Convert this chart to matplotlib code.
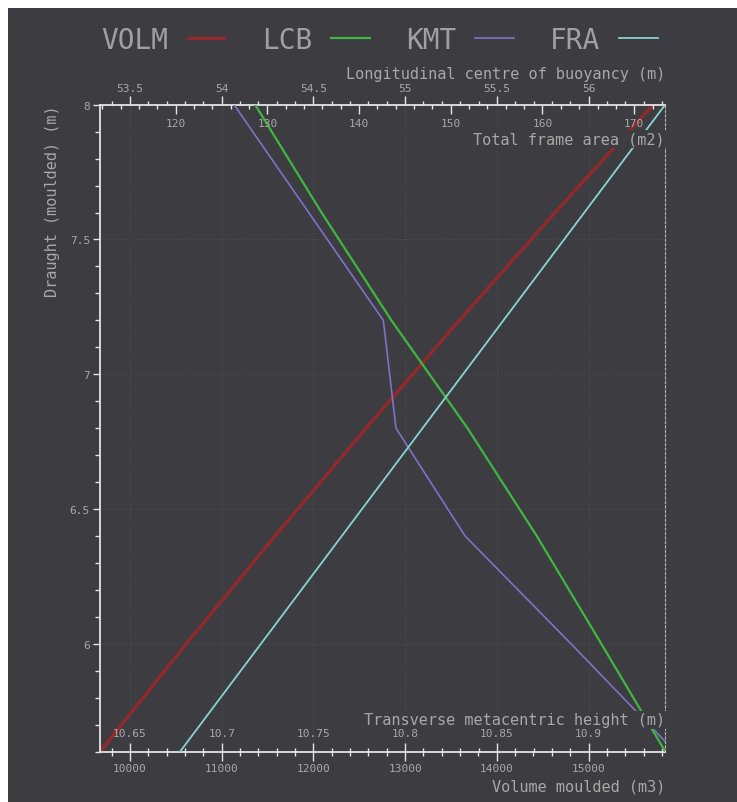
import matplotlib
matplotlib.use('Agg')
import matplotlib.pyplot as plt
from matplotlib.patches import Rectangle
from matplotlib.ticker import MultipleLocator, FuncFormatter

# Hydrostatic curves against moulded draught
draught = [5.6, 6.0, 6.4, 6.8, 7.2, 7.6, 8.0]
volm = [9673, 10613, 11581, 12574, 13591, 14635, 15705]
lcb = [56.419, 56.070, 55.718, 55.340, 54.925, 54.544, 54.182]
kmt = [10.9472, 10.8905, 10.8327, 10.7950, 10.7881, 10.7474, 10.7067]
fra = [120.47, 129.29, 138.11, 146.92, 155.74, 164.56, 173.38]

series_names = ['VOLM', 'LCB', 'KMT', 'FRA']
series_colors = ['#93292d', '#3fb63f', '#7d72c9', '#86d3cf']

BG = '#3d3d41'
FG = '#e4e4e4'
TXT = '#a8a8a8'
W, H = 737, 803

plt.rcParams['font.family'] = ['DejaVu Sans Mono']

fig = plt.figure(figsize=(W / 100, H / 100), dpi=100, facecolor='white')
fig.patches.append(Rectangle((8 / W, 0), 1, 1 - 9 / H, transform=fig.transFigure,
                             facecolor=BG, edgecolor='none', zorder=-10))

rect = [100 / W, 1 - 752.7 / H, 565 / W, 647 / H]
ax = fig.add_axes(rect, facecolor=BG)
ax_kmt = fig.add_axes(rect, sharey=ax, frameon=False)
ax_lcb = fig.add_axes(rect, sharey=ax, frameon=False)
ax_fra = fig.add_axes(rect, sharey=ax, frameon=False)

fmt = FuncFormatter(lambda v, p: '%g' % v)

# draught axis
ax.set_ylim(5.6, 8.0)
ax.yaxis.set_major_locator(MultipleLocator(0.5))
ax.yaxis.set_minor_locator(MultipleLocator(0.1))
ax.yaxis.set_major_formatter(fmt)
ax.tick_params(axis='y', which='major', direction='out', length=5, width=1,
               color=FG, labelcolor=TXT, labelsize=8, pad=2.2)
ax.tick_params(axis='y', which='minor', direction='out', length=3.5, width=1, color=FG)

# volume (bottom, outward ticks)
ax.set_xlim(9673, 15834)
ax.xaxis.set_major_locator(MultipleLocator(1000))
ax.xaxis.set_minor_locator(MultipleLocator(200))
ax.xaxis.set_major_formatter(fmt)
ax.tick_params(axis='x', which='major', direction='out', length=6.5, width=1,
               color=FG, labelcolor=TXT, labelsize=8, pad=1.3)
ax.tick_params(axis='x', which='minor', direction='out', length=3.2, width=1, color=FG)
ax.grid(True, which='major', color='#4d4d52', linestyle=':', linewidth=0.8)

for side in ['left', 'top', 'bottom']:
    ax.spines[side].set_color(FG)
    ax.spines[side].set_linewidth(1.3)
ax.spines['right'].set_color('#b8b8b8')
ax.spines['right'].set_linewidth(0.8)
ax.spines['right'].set_linestyle((0, (2, 2)))

# transverse metacentric height (bottom, inward ticks, labels above)
ax_kmt.set_xlim(10.6336, 10.9417)
ax_kmt.xaxis.set_ticks_position('bottom')
ax_kmt.xaxis.set_label_position('bottom')
ax_kmt.xaxis.set_major_locator(MultipleLocator(0.05))
ax_kmt.xaxis.set_minor_locator(MultipleLocator(0.01))
ax_kmt.xaxis.set_major_formatter(fmt)
ax_kmt.tick_params(axis='x', which='major', direction='in', length=6.5, width=1,
                   color=FG, labelcolor=TXT, labelsize=8, pad=-17)
ax_kmt.tick_params(axis='x', which='minor', direction='in', length=3.2, width=1, color=FG)

# longitudinal centre of buoyancy (top, outward ticks)
ax_lcb.set_xlim(53.336, 56.417)
ax_lcb.xaxis.set_ticks_position('top')
ax_lcb.xaxis.set_label_position('top')
ax_lcb.xaxis.set_major_locator(MultipleLocator(0.5))
ax_lcb.xaxis.set_minor_locator(MultipleLocator(0.1))
ax_lcb.xaxis.set_major_formatter(fmt)
ax_lcb.tick_params(axis='x', which='major', direction='out', length=6.5, width=1,
                   color=FG, labelcolor=TXT, labelsize=8, pad=2)
ax_lcb.tick_params(axis='x', which='minor', direction='out', length=3.2, width=1, color=FG)

# total frame area (top, inward ticks, labels below)
ax_fra.set_xlim(111.745, 173.36)
ax_fra.xaxis.set_ticks_position('top')
ax_fra.xaxis.set_label_position('top')
ax_fra.xaxis.set_major_locator(MultipleLocator(10))
ax_fra.xaxis.set_minor_locator(MultipleLocator(2))
ax_fra.xaxis.set_major_formatter(fmt)
ax_fra.tick_params(axis='x', which='major', direction='in', length=6.5, width=1,
                   color=FG, labelcolor=TXT, labelsize=8, pad=-17)
ax_fra.tick_params(axis='x', which='minor', direction='in', length=3.2, width=1, color=FG)

for a in (ax_kmt, ax_lcb, ax_fra):
    a.yaxis.set_visible(False)
    a.patch.set_visible(False)

l_vol, = ax.plot(volm, draught, color=series_colors[0], lw=2.4, solid_capstyle='butt')
l_lcb, = ax_lcb.plot(lcb, draught, color=series_colors[1], lw=1.6)
l_kmt, = ax_kmt.plot(kmt, draught, color=series_colors[2], lw=1.2)
l_fra, = ax_fra.plot(fra, draught, color=series_colors[3], lw=1.3)

# axis titles, with a backing box so curves pass behind them
box = dict(facecolor=BG, edgecolor='none', pad=1)
tkw = dict(ha='right', va='center', fontsize=11, color=TXT)
fig.text(665 / W, 1 - 74 / H, 'Longitudinal centre of buoyancy (m)', **tkw)
fig.text(665 / W, 1 - 140 / H, 'Total frame area (m2)', bbox=box, **tkw)
fig.text(665 / W, 1 - 720.7 / H, 'Transverse metacentric height (m)', bbox=box, **tkw)
fig.text(665 / W, 1 - 786.7 / H, 'Volume moulded (m3)', **tkw)
fig.text(52.5 / W, 1 - 105.7 / H, 'Draught (moulded) (m)', rotation=90,
         ha='center', va='top', fontsize=11, color=TXT)

fig.legend([l_vol, l_lcb, l_kmt, l_fra], series_names, loc='center left',
           bbox_to_anchor=(101 / W, 1 - 41 / H), ncol=4, frameon=False,
           markerfirst=False, handlelength=1.4, handletextpad=0.68,
           columnspacing=1.3, borderpad=0, borderaxespad=0,
           prop={'family': 'DejaVu Sans Mono', 'size': 20}, labelcolor='#a0a0a0')

fig.savefig('out.png', dpi=100, facecolor=fig.get_facecolor())
